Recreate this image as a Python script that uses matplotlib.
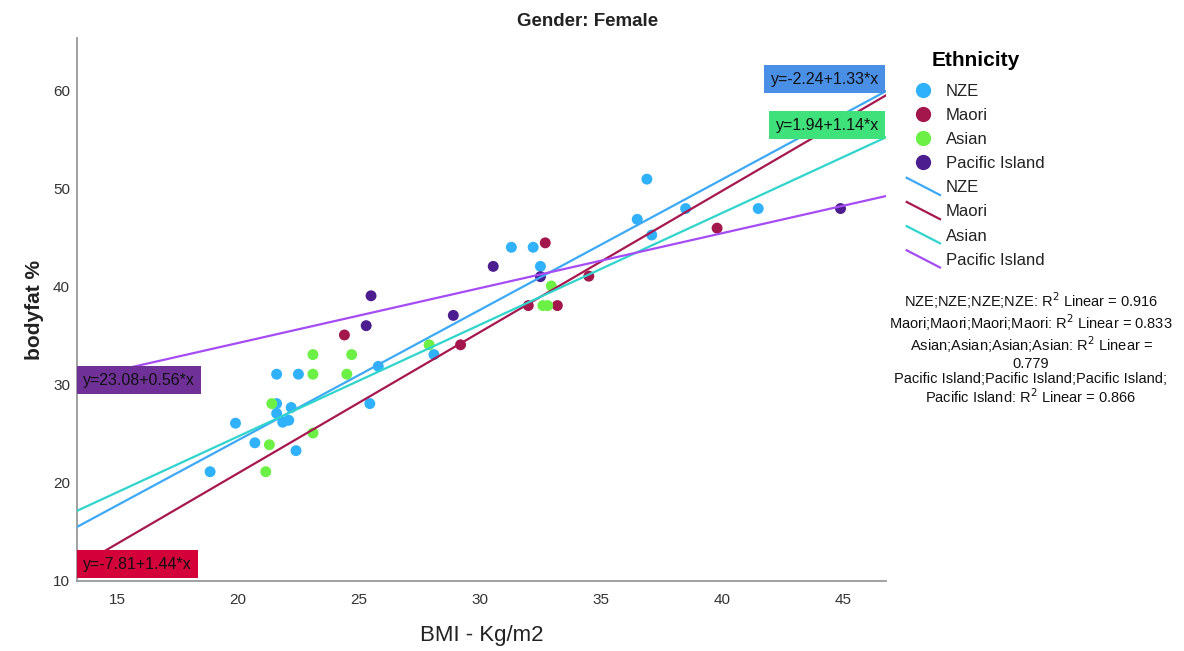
"""
Scatter of body fat % vs BMI for female participants, coloured by ethnicity,
with a linear fit per group (SPSS-style chart).
"""
import matplotlib
matplotlib.use("Agg")
import matplotlib.pyplot as plt
import numpy as np
from matplotlib.legend_handler import HandlerBase
from matplotlib.lines import Line2D

plt.rcParams["font.family"] = ["Liberation Sans", "DejaVu Sans"]

groups = ["NZE", "Maori", "Asian", "Pacific Island"]

nze_bmi = [18.85, 19.9, 20.7, 21.6, 22.5, 21.6, 21.6, 22.2, 21.85, 22.1, 22.4,
           25.45, 25.8, 28.1, 31.3, 32.2, 32.5, 36.9, 36.5, 38.5, 37.1, 41.5]
nze_fat = [21.15, 26.1, 24.1, 31.1, 31.1, 28.1, 27.1, 27.7, 26.2, 26.4, 23.3,
           28.1, 31.9, 33.1, 44.05, 44.05, 42.1, 51.0, 46.9, 48.0, 45.3, 48.0]

maori_bmi = [24.4, 29.2, 32.0, 32.7, 33.2, 34.5, 39.8]
maori_fat = [35.1, 34.1, 38.1, 44.5, 38.1, 41.1, 46.0]

asian_bmi = [21.4, 21.3, 21.15, 23.1, 23.1, 23.1, 24.5, 24.7, 27.9, 32.6, 32.8, 32.95]
asian_fat = [28.1, 23.9, 21.15, 33.1, 31.1, 25.1, 31.1, 33.1, 34.1, 38.1, 38.1, 40.1]

pacific_bmi = [25.3, 25.5, 28.9, 30.55, 32.5, 44.9]
pacific_fat = [36.05, 39.1, 37.1, 42.1, 41.05, 48.0]

fit_intercept = [-2.24, -7.81, 1.94, 23.08]
fit_slope = [1.33, 1.44, 1.14, 0.56]
fit_r2 = [0.916, 0.833, 0.779, 0.866]

x_ticks = [15, 20, 25, 30, 35, 40, 45]
y_ticks = [10, 20, 30, 40, 50, 60]

bmi = [nze_bmi, maori_bmi, asian_bmi, pacific_bmi]
fat = [nze_fat, maori_fat, asian_fat, pacific_fat]

point_colors = ["#2fb1fb", "#a3174c", "#6cf046", "#4b1d8e"]
line_colors = ["#3ca9f6", "#a6184f", "#2fd5cc", "#a64cf5"]
box_colors = ["#4a8fe6", "#d3003a", "#3fe17a", "#6f3198"]
# where each fit-equation box sits: (side, y in data units)
box_place = [("right", 61.2), ("left", 11.7), ("right", 56.5), ("left", 30.5)]

XLIM = (13.35, 46.78)
YLIM = (10, 65.4)


class HandlerSlant(HandlerBase):
    """Legend line drawn as a short diagonal, like SPSS does."""
    def create_artists(self, legend, orig_handle, xdescent, ydescent,
                       width, height, fontsize, trans):
        ln = Line2D([-xdescent, width - xdescent],
                    [height - ydescent + 2, -ydescent - 2],
                    color=orig_handle.get_color(), lw=orig_handle.get_linewidth(),
                    transform=trans)
        return [ln]


fig = plt.figure(figsize=(11.84, 6.51), dpi=100)
ax = fig.add_axes([77 / 1184, 70 / 651, (886 - 77) / 1184, (581 - 38) / 651])

for i, g in enumerate(groups):
    ax.scatter(bmi[i], fat[i], s=62, color=point_colors[i], edgecolor="none", zorder=3)

xs = np.array(XLIM)
for i, g in enumerate(groups):
    ax.plot(xs, fit_intercept[i] + fit_slope[i] * xs, color=line_colors[i], lw=1.6, zorder=4)

for i, g in enumerate(groups):
    side, yy = box_place[i]
    txt = f"y={fit_intercept[i]:.2f}+{fit_slope[i]:.2f}*x"
    xx = XLIM[1] - 0.3 if side == "right" else XLIM[0] + 0.25
    ax.text(xx, yy, txt, ha=side, va="center", fontsize=11.5, color="#111111", zorder=6,
            bbox=dict(boxstyle="square,pad=0.4", facecolor=box_colors[i], edgecolor="none"))

ax.set_xlim(*XLIM)
ax.set_ylim(*YLIM)
ax.set_xticks(x_ticks)
ax.set_yticks(y_ticks)
ax.tick_params(length=0, labelsize=11, colors="#333333")
ax.tick_params(axis="x", pad=9)
ax.tick_params(axis="y", pad=5)
for s in ("top", "right"):
    ax.spines[s].set_visible(False)
for s in ("left", "bottom"):
    ax.spines[s].set_color("#999999")
    ax.spines[s].set_linewidth(1.3)

fig.text(482 / 1184, 1 - 636 / 651, "BMI - Kg/m2", ha="center", va="center",
         fontsize=16, color="#222222")
fig.text(35 / 1184, 1 - 310 / 651, "bodyfat %", ha="center", va="center", rotation=90,
         fontsize=15, fontweight="bold", color="#222222")
fig.text(588 / 1184, 1 - 21 / 651, "Gender: Female", ha="center", va="center",
         fontsize=13.5, fontweight="bold", color="#222222")

handles = []
labels = []
for i, g in enumerate(groups):
    handles.append(Line2D([], [], marker="o", ls="none", markersize=11,
                          markerfacecolor=point_colors[i], markeredgecolor="none"))
    labels.append(g)
slant = {}
for i, g in enumerate(groups):
    h = Line2D([], [], color=line_colors[i], lw=1.6)
    slant[h] = HandlerSlant()
    handles.append(h)
    labels.append(g)

leg = fig.legend(handles, labels, loc="upper left", bbox_to_anchor=(900 / 1184, 1 - 44 / 651),
                 frameon=False, fontsize=12, title="Ethnicity", handler_map=slant,
                 handlelength=2.0, handletextpad=0.35, labelspacing=0.55, borderaxespad=0)
leg.get_title().set_fontsize(15)
leg.get_title().set_fontweight("bold")
leg._legend_box.sep = 10
for t in leg.get_texts():
    t.set_color("#222222")

r2_lines = [
    f"NZE;NZE;NZE;NZE: R$^2$ Linear = {fit_r2[0]:.3f}",
    f"Maori;Maori;Maori;Maori: R$^2$ Linear = {fit_r2[1]:.3f}",
    "Asian;Asian;Asian;Asian: R$^2$ Linear =",
    f"{fit_r2[2]:.3f}",
    "Pacific Island;Pacific Island;Pacific Island;",
    f"Pacific Island: R$^2$ Linear = {fit_r2[3]:.3f}",
]
fig.text(1031 / 1184, 1 - 348 / 651, "\n".join(r2_lines), ha="center", va="center",
         fontsize=10.5, color="#111111", linespacing=1.1)

fig.savefig("out.png", dpi=100)
